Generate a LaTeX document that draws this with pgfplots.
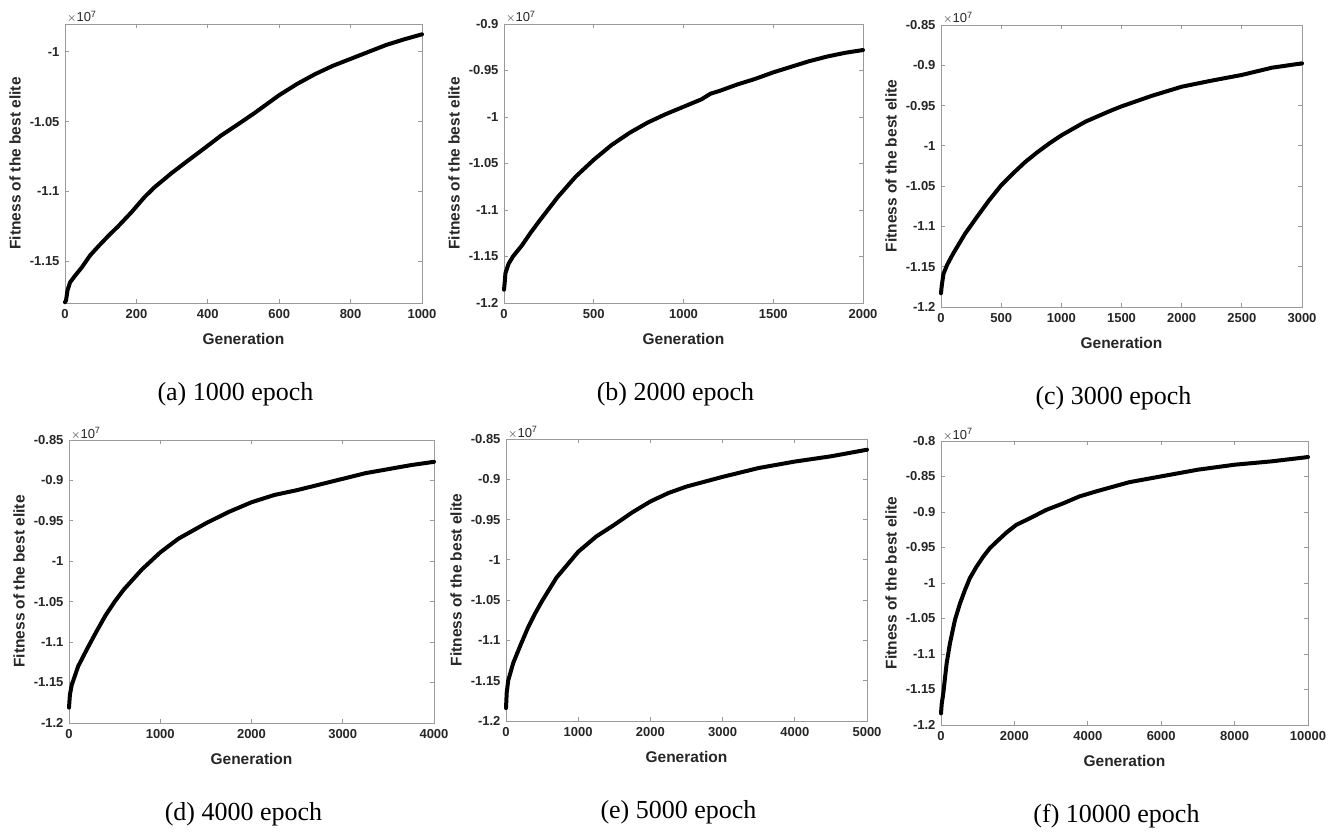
\documentclass[border=0pt]{standalone}
\usepackage{fontspec}
\setmainfont{Liberation Serif}
\newfontfamily\arial{Liberation Sans}
\usepackage{pgfplots}
\pgfplotsset{compat=1.18}
\usetikzlibrary{calc}

\definecolor{txtgray}{HTML}{262626}
\definecolor{boxgray}{HTML}{9A9A9A}

\pgfplotsset{
  mat/.style={
    scale only axis,
    clip=false,
    axis line style={draw=boxgray, line width=0.8pt},
    tick style={draw=boxgray, line width=0.8pt},
    major tick length=4pt,
    tick align=inside,
    scaled x ticks=false, scaled y ticks=false,
    /pgf/number format/1000 sep={},
    /pgf/number format/assume math mode=true,
    tick label style={font=\arial\bfseries\fontsize{13}{15}\selectfont, text=txtgray},
    xticklabel style={yshift=-3pt},
    yticklabel style={xshift=-2pt},
    label style={font=\arial\bfseries\fontsize{15.5}{18}\selectfont, text=txtgray},
    xlabel={Generation},
    ylabel={Fitness of the best elite},
    xlabel style={at={(rel axis cs:0.5,0)}, anchor=center, yshift=-36pt},
    ylabel style={at={($(rel axis cs:0,0.5)+(-50pt,0pt)$)}, anchor=center},
    title style={at={(rel axis cs:0.5,0)}, anchor=center, yshift=-97pt, xshift=-8pt,
      font=\fontsize{26}{30}\selectfont},
  },
  curve/.style={black, no markers, line width=4pt, line join=round, line cap=round},
  sc/.style={extra description/.code={
    \node[anchor=base west, inner sep=0pt, text=txtgray, font=\arial\fontsize{13}{15}\selectfont]
      at ($(rel axis cs:0,1)+(2pt,2pt)$) {$\times$10\textsuperscript{7}};}},
}

\begin{document}
\begin{tikzpicture}
\useasboundingbox (0pt,0pt) rectangle (1344pt,836pt);

% (a)
\begin{axis}[mat, sc, at={(65pt,533pt)}, anchor=south west,
  width=357pt, height=279pt,
  xmin=0, xmax=1000, ymin=-1.18, ymax=-0.98,
  xtick={0,200,...,1000}, ytick={-1.15,-1.1,-1.05,-1},
  title={(a) 1000 epoch}]
\addplot[curve] coordinates {
(0,-1.1795) (3,-1.178) (7,-1.171) (14,-1.1653) (28,-1.1605) (47,-1.1545)
(70,-1.146) (93,-1.1395) (121,-1.132) (149,-1.125) (186,-1.115) (223,-1.104)
(251,-1.097) (298,-1.087) (344,-1.078) (391,-1.069) (437,-1.060) (484,-1.052)
(530,-1.044) (600,-1.031) (650,-1.023) (700,-1.016) (750,-1.010) (800,-1.005)
(850,-1.000) (900,-0.995) (950,-0.991) (1000,-0.9874)};
\end{axis}

% (b)
\begin{axis}[mat, sc, at={(504pt,533pt)}, anchor=south west,
  width=359pt, height=279pt,
  xmin=0, xmax=2000, ymin=-1.2, ymax=-0.9,
  xtick={0,500,...,2000}, ytick={-1.2,-1.15,-1.1,-1.05,-1,-0.95,-0.9},
  title={(b) 2000 epoch}]
\addplot[curve] coordinates {
(0,-1.1857) (3,-1.18) (8,-1.168) (25,-1.158) (50,-1.150) (100,-1.138)
(150,-1.124) (200,-1.111) (300,-1.086) (400,-1.064) (500,-1.046) (600,-1.030)
(700,-1.017) (800,-1.006) (900,-0.997) (1000,-0.989) (1100,-0.981) (1150,-0.975)
(1200,-0.972) (1300,-0.965) (1400,-0.959) (1500,-0.952) (1600,-0.946)
(1700,-0.940) (1800,-0.935) (1900,-0.931) (2000,-0.928)};
\end{axis}

% (c)
\begin{axis}[mat, sc, at={(941pt,529pt)}, anchor=south west,
  width=361pt, height=282pt,
  xmin=0, xmax=3000, ymin=-1.2, ymax=-0.85,
  xtick={0,500,...,3000}, ytick={-1.2,-1.15,-1.1,-1.05,-1,-0.95,-0.9,-0.85},
  title={(c) 3000 epoch}]
\addplot[curve] coordinates {
(0,-1.183) (5,-1.175) (20,-1.159) (50,-1.148) (100,-1.134) (200,-1.109)
(300,-1.088) (400,-1.0675) (500,-1.049) (600,-1.034) (700,-1.020) (800,-1.008)
(900,-0.997) (1000,-0.987) (1200,-0.970) (1400,-0.957) (1500,-0.951)
(1750,-0.938) (2000,-0.9266) (2250,-0.919) (2500,-0.912) (2750,-0.903)
(3000,-0.8976)};
\end{axis}

% (d)
\begin{axis}[mat, sc, at={(69pt,113pt)}, anchor=south west,
  width=365pt, height=283pt,
  xmin=0, xmax=4000, ymin=-1.2, ymax=-0.85,
  xtick={0,1000,...,4000}, ytick={-1.2,-1.15,-1.1,-1.05,-1,-0.95,-0.9,-0.85},
  title={(d) 4000 epoch}]
\addplot[curve] coordinates {
(0,-1.181) (10,-1.165) (30,-1.153) (100,-1.130) (200,-1.108) (300,-1.087)
(400,-1.067) (500,-1.050) (600,-1.035) (800,-1.010) (1000,-0.989) (1200,-0.972)
(1500,-0.953) (1750,-0.939) (2000,-0.927) (2250,-0.918) (2500,-0.912)
(2750,-0.905) (3000,-0.898) (3250,-0.891) (3500,-0.886) (3750,-0.881)
(4000,-0.877)};
\end{axis}

% (e)
\begin{axis}[mat, sc, at={(506pt,115pt)}, anchor=south west,
  width=361pt, height=282pt,
  xmin=0, xmax=5000, ymin=-1.2, ymax=-0.85,
  xtick={0,1000,...,5000}, ytick={-1.2,-1.15,-1.1,-1.05,-1,-0.95,-0.9,-0.85},
  title={(e) 5000 epoch}]
\addplot[curve] coordinates {
(0,-1.184) (10,-1.165) (30,-1.150) (100,-1.128) (200,-1.106) (300,-1.085)
(400,-1.067) (500,-1.051) (700,-1.022) (1000,-0.990) (1250,-0.971)
(1500,-0.9565) (1750,-0.941) (2000,-0.9275) (2250,-0.917) (2500,-0.909)
(2750,-0.903) (3000,-0.897) (3500,-0.886) (4000,-0.878) (4500,-0.8715)
(5000,-0.8633)};
\end{axis}

% (f)
\begin{axis}[mat, sc, at={(941pt,111pt)}, anchor=south west,
  width=367pt, height=284pt,
  xmin=0, xmax=10000, ymin=-1.2, ymax=-0.8,
  xtick={0,2000,...,10000}, ytick={-1.2,-1.15,-1.1,-1.05,-1,-0.95,-0.9,-0.85,-0.8},
  title={(f) 10000 epoch}]
\addplot[curve] coordinates {
(0,-1.1836) (20,-1.17) (63,-1.155) (154,-1.113) (244,-1.085) (380,-1.052)
(516,-1.029) (652,-1.010) (787,-0.993) (968,-0.977) (1149,-0.963) (1330,-0.951)
(1511,-0.942) (1783,-0.929) (2054,-0.918) (2416,-0.909) (2869,-0.897)
(3321,-0.888) (3774,-0.878) (4226,-0.871) (5131,-0.858) (6000,-0.8498)
(7000,-0.8404) (8000,-0.8334) (9000,-0.8287) (10000,-0.8226)};
\end{axis}
\end{tikzpicture}
\end{document}
